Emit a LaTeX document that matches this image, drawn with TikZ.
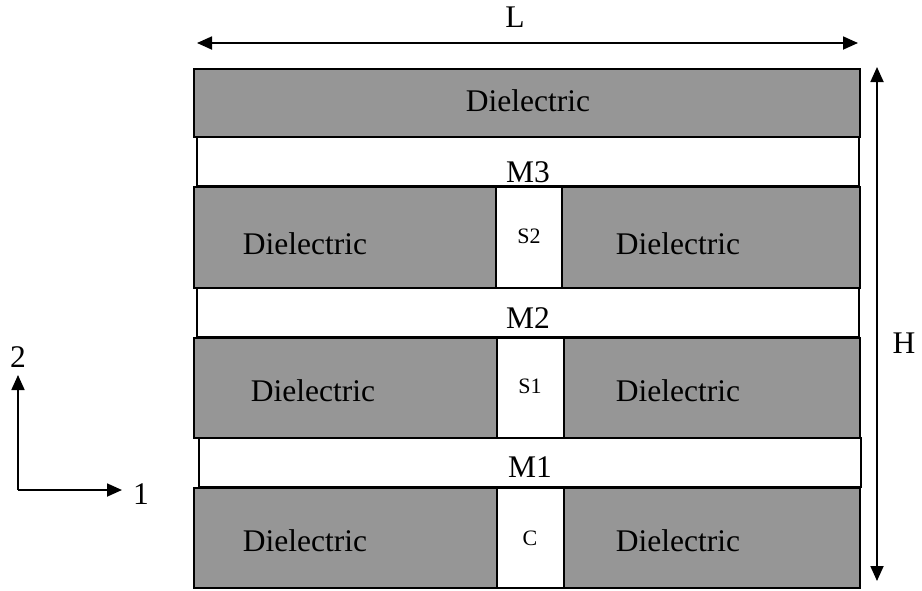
\documentclass[tikz,border=0pt]{standalone}
\usepackage{fontspec}
\setmainfont{Liberation Serif}
\usetikzlibrary{arrows.meta}
\definecolor{diel}{RGB}{150,150,150}
\begin{document}
\begin{tikzpicture}[x=1pt,y=-1pt,
  layer/.style={draw=black,line width=1.8pt},
  dielbox/.style={layer,fill=diel},
  metalbox/.style={layer,fill=white},
  lbl/.style={font=\fontsize{31.5}{32}\selectfont,inner sep=0pt},
  small/.style={font=\fontsize{22}{22}\selectfont,inner sep=0pt},
  tip/.tip={Triangle[length=15pt,width=13pt]},
  dim/.style={line width=1.8pt,tip-tip},
  axis/.style={line width=1.8pt,-tip}]
\useasboundingbox (0,0) rectangle (922,590);

% top dielectric
\filldraw[dielbox] (194,69) rectangle (860,137);
\node[lbl] (d0) at (528,101) {Dielectric};

% M3 and via S2
\filldraw[metalbox] (197,137) rectangle (859,186);
\node[lbl] (m3) at (528,172) {M3};
\filldraw[dielbox] (194,187) rectangle (860,288);
\filldraw[metalbox] (496,187) rectangle (562,288);
\node[lbl] (d1l) at (305,244) {Dielectric};
\node[small] (s2) at (529,236) {S2};
\node[lbl] (d1r) at (678,244) {Dielectric};

% M2 and via S1
\filldraw[metalbox] (197,288) rectangle (859,337);
\node[lbl] (m2) at (528,318) {M2};
\filldraw[dielbox] (194,338) rectangle (860,438);
\filldraw[metalbox] (497,338) rectangle (564,438);
\node[lbl] (d2l) at (313,391) {Dielectric};
\node[small] (s1) at (530,386) {S1};
\node[lbl] (d2r) at (678,391) {Dielectric};

% M1 and contact C
\filldraw[metalbox] (199,438) rectangle (861,487);
\node[lbl] (m1) at (530,467) {M1};
\filldraw[dielbox] (194,488) rectangle (860,588);
\filldraw[metalbox] (497,488) rectangle (564,588);
\node[lbl] (d3l) at (305,541) {Dielectric};
\node[small] (c) at (530,538) {C};
\node[lbl] (d3r) at (678,541) {Dielectric};

% dimension arrows
\coordinate (Ll) at (197,43);
\coordinate (Lr) at (858,43);
\draw[dim] (Ll) -- (Lr);
\node[lbl] (L) at (515,17) {L};
\coordinate (Ht) at (877,67);
\coordinate (Hb) at (877,581);
\draw[dim] (Ht) -- (Hb);
\node[lbl] (H) at (904,343) {H};

% axes
\coordinate (O) at (18,490);
\coordinate (A2) at (18,375);
\coordinate (A1) at (122,490);
\draw[axis] (O) -- (A2);
\draw[axis] (O) -- (A1);
\node[lbl] (n2) at (18,357) {2};
\node[lbl] (n1) at (141,494) {1};
\end{tikzpicture}
\end{document}
